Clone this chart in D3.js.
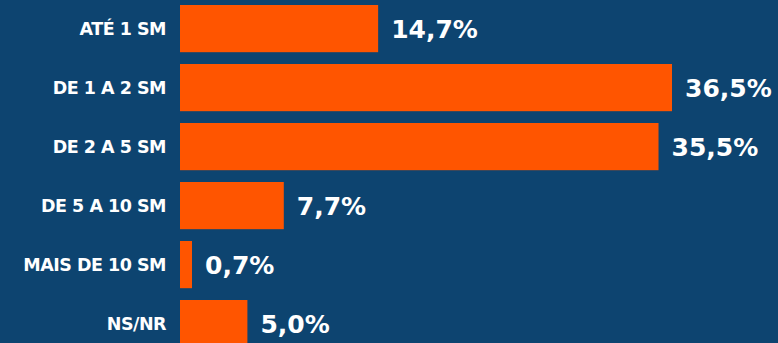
<!DOCTYPE html>
<html><head><meta charset="utf-8">
<script src="https://cdn.jsdelivr.net/npm/d3@7"></script>
<style>
html,body{margin:0;padding:0;background:#0d4470;overflow:hidden}
svg{display:block}
text{font-family:"DejaVu Sans",sans-serif;font-weight:700;fill:#fff}
</style></head><body>
<svg id="c" width="778" height="343"></svg>
<script>
const categories = ["ATÉ 1 SM","DE 1 A 2 SM","DE 2 A 5 SM","DE 5 A 10 SM","MAIS DE 10 SM","NS/NR"];
const values = [14.7, 36.5, 35.5, 7.7, 0.7, 5.0];
const valueLabels = ["14,7%","36,5%","35,5%","7,7%","0,7%","5,0%"];

const svg = d3.select("#c");
const W = 778, H = 343;
svg.append("rect").attr("width",W).attr("height",H).attr("fill","#0d4470");

const x = d3.scaleLinear().domain([0, 36.5]).range([180, 672]);
const y = d3.scaleBand().domain(categories).range([-0.9, 353.1]).paddingInner(0.2).paddingOuter(0.1);

const data = categories.map((c,i)=>({c, v:values[i], l:valueLabels[i]}));

svg.selectAll("rect.bar").data(data).join("rect").attr("class","bar")
  .attr("x", x(0))
  .attr("y", d=>y(d.c))
  .attr("width", d=>Math.max(x(d.v)-x(0), 12))
  .attr("height", y.bandwidth())
  .attr("fill","#ff5500");

svg.selectAll("text.val").data(data).join("text").attr("class","val")
  .attr("x", d=>x(0)+Math.max(x(d.v)-x(0),12)+13)
  .attr("y", d=>y(d.c)+y.bandwidth()/2)
  .attr("dy","0.37em")
  .style("font-size","25px")
  .text(d=>d.l);

const yAxis = d3.axisLeft(y).tickSize(0).tickPadding(0);
const g = svg.append("g").attr("transform","translate(166,0)").call(yAxis);
g.select(".domain").remove();
g.selectAll("text").attr("fill","#fff").style("fill","#fff")
  .style("font-family",'"DejaVu Sans",sans-serif').style("font-weight","700")
  .style("font-size","17.5px").attr("dy","0.37em").style("letter-spacing","-0.5px");
</script>
</body></html>
